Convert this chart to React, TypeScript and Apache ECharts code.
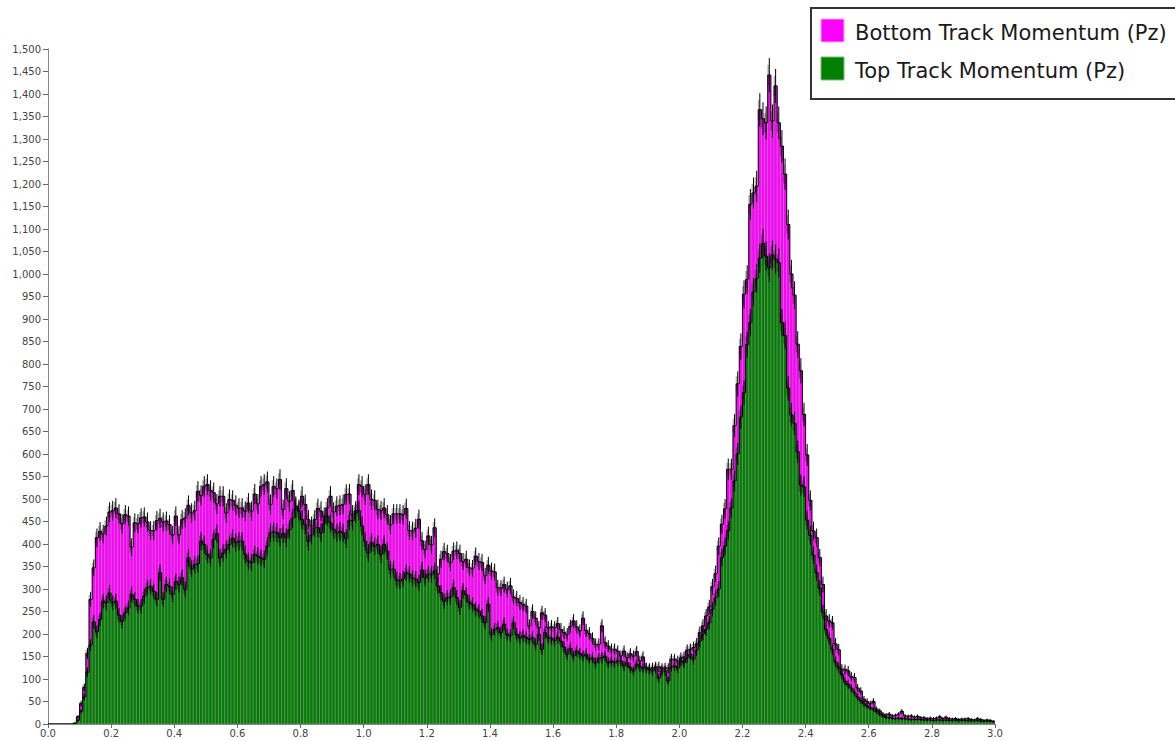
import React, { useEffect, useRef } from "react";
import * as echarts from "echarts";

// Histogram bins: 300 bins of width 0.01 from 0.0 to 3.0
const BIN_WIDTH = 0.01;
const X_MIN = 0;
const X_MAX = 3.0;
const X_TICK_STEP = 0.2;
const Y_MIN = 0;
const Y_MAX = 1500;
const Y_TICK_STEP = 50;

const seriesNames = ["Bottom Track Momentum (Pz)", "Top Track Momentum (Pz)"];

// Bottom Track Momentum (Pz) counts per bin
const bottomTrack = [
  0, 0, 0, 0, 0, 0, 0, 0, 2, 16,
  45, 81, 157, 277, 347, 414, 428, 422, 440, 471,
  474, 480, 467, 445, 465, 462, 393, 447, 445, 458,
  460, 449, 430, 430, 452, 457, 449, 451, 443, 420,
  462, 420, 454, 458, 486, 469, 474, 517, 508, 528,
  532, 519, 514, 489, 506, 506, 469, 499, 497, 486,
  480, 480, 473, 491, 473, 511, 489, 528, 532, 538,
  488, 528, 523, 543, 477, 523, 495, 519, 484, 477,
  506, 488, 454, 440, 454, 479, 473, 460, 480, 506,
  471, 484, 486, 488, 510, 511, 465, 474, 532, 528,
  510, 532, 499, 497, 477, 474, 480, 465, 443, 467,
  467, 467, 465, 479, 430, 429, 435, 455, 407, 388,
  418, 398, 436, 333, 366, 383, 379, 359, 384, 386,
  379, 361, 366, 347, 346, 373, 361, 359, 329, 353,
  340, 338, 303, 302, 310, 299, 307, 282, 279, 270,
  266, 262, 218, 250, 235, 214, 247, 242, 214, 216,
  214, 223, 210, 203, 199, 217, 229, 216, 207, 235,
  208, 201, 190, 177, 177, 218, 181, 173, 166, 166,
  162, 151, 162, 147, 156, 151, 161, 140, 149, 125,
  124, 125, 127, 127, 124, 125, 124, 144, 144, 140,
  147, 149, 164, 166, 170, 178, 203, 218, 240, 260,
  305, 334, 395, 444, 478, 566, 566, 663, 756, 839,
  955, 988, 1155, 1180, 1195, 1365, 1345, 1336, 1442, 1340,
  1418, 1336, 1284, 1222, 1110, 1000, 953, 844, 785, 688,
  598, 497, 429, 414, 370, 310, 240, 229, 225, 178,
  165, 122, 121, 118, 105, 103, 80, 73, 55, 50,
  45, 50, 33, 29, 22, 20, 22, 18, 19, 22,
  28, 18, 17, 18, 15, 17, 14, 14, 12, 13,
  12, 13, 16, 12, 15, 12, 11, 12, 10, 11,
  11, 12, 10, 9, 12, 10, 8, 9, 8, 6,
];

// Top Track Momentum (Pz) counts per bin
const topTrack = [
  0, 0, 0, 0, 0, 0, 0, 0, 1, 8,
  28, 60, 115, 175, 227, 205, 232, 273, 269, 291,
  269, 273, 242, 228, 247, 258, 288, 277, 262, 262,
  284, 303, 306, 295, 277, 336, 277, 310, 306, 288,
  316, 310, 325, 299, 369, 345, 354, 356, 406, 399,
  377, 369, 410, 423, 369, 380, 388, 399, 412, 403,
  406, 406, 377, 362, 358, 377, 373, 369, 366, 395,
  425, 427, 425, 415, 423, 414, 432, 457, 479, 473,
  454, 443, 406, 420, 436, 436, 425, 445, 462, 447,
  432, 425, 428, 425, 412, 452, 452, 469, 474, 440,
  406, 380, 403, 395, 399, 377, 399, 384, 343, 344,
  320, 318, 322, 336, 333, 324, 322, 314, 342, 325,
  333, 333, 340, 307, 292, 273, 281, 282, 303, 281,
  259, 296, 287, 270, 266, 255, 251, 240, 225, 266,
  199, 210, 214, 203, 222, 199, 196, 225, 199, 192,
  196, 192, 188, 192, 177, 199, 166, 203, 192, 190,
  186, 193, 184, 171, 155, 168, 151, 162, 156, 151,
  155, 144, 147, 136, 146, 147, 151, 136, 140, 136,
  140, 140, 129, 136, 125, 118, 133, 127, 124, 125,
  121, 118, 124, 102, 118, 118, 96, 127, 129, 124,
  140, 136, 147, 155, 144, 164, 184, 200, 210, 225,
  255, 280, 300, 370, 395, 430, 480, 540, 600, 682,
  736, 843, 892, 960, 990, 1035, 1068, 1040, 1014, 1042,
  1033, 1025, 892, 863, 746, 687, 668, 605, 531, 527,
  453, 419, 375, 336, 302, 249, 210, 190, 166, 138,
  125, 110, 95, 88, 80, 70, 60, 52, 45, 40,
  36, 33, 28, 22, 18, 15, 14, 13, 12, 13,
  12, 12, 11, 10, 10, 11, 10, 9, 9, 9,
  8, 9, 9, 8, 9, 8, 8, 9, 7, 8,
  8, 7, 7, 7, 8, 6, 6, 7, 6, 5,
];

const COLORS = ["#ff00ff", "#008000"];
const FONT = "DejaVu Sans";

function toBins(values: number[]) {
  return values.map((v, i) => [
    +(i * BIN_WIDTH).toFixed(2),
    +((i + 1) * BIN_WIDTH).toFixed(2),
    v,
    i > 0 ? values[i - 1] : 0,
  ]);
}

function makeRenderItem(fill: string) {
  return (params: any, api: any) => {
    const x0 = api.value(0);
    const x1 = api.value(1);
    const v = api.value(2);
    const prev = api.value(3);
    const tl = api.coord([x0, v]);
    const br = api.coord([x1, 0]);
    const pp = api.coord([x0, prev]);
    const children: any[] = [];
    if (v > 0) {
      children.push({
        type: "rect",
        shape: { x: tl[0], y: tl[1], width: br[0] - tl[0], height: br[1] - tl[1] },
        style: { fill, stroke: "rgba(150,150,150,0.55)", lineWidth: 0.8 },
      });
    }
    children.push({
      type: "polyline",
      shape: { points: [[pp[0], pp[1]], [tl[0], tl[1]], [br[0], tl[1]]] },
      style: { stroke: "#000", lineWidth: 1, fill: null },
    });
    if (v > 0) {
      const err = Math.sqrt(v);
      const cx = (tl[0] + br[0]) / 2;
      const hi = api.coord([x0, v + err])[1];
      const lo = api.coord([x0, Math.max(0, v - err)])[1];
      const hi2 = api.coord([x0, v + err * 0.6])[1];
      const lo2 = api.coord([x0, Math.max(0, v - err * 0.6)])[1];
      children.push({
        type: "rect",
        shape: { x: cx - 2, y: hi2, width: 2, height: lo2 - hi2 },
        style: { fill: "rgba(0,0,0,0.3)" },
      });
      children.push({
        type: "line",
        shape: { x1: cx, y1: hi, x2: cx, y2: lo },
        style: { stroke: "#000", lineWidth: 1 },
      });
    }
    return { type: "group", children };
  };
}

export default function App() {
  const ref = useRef<HTMLDivElement>(null);
  useEffect(() => {
    document.body.style.margin = "0";
    if (!ref.current) return;
    const chart = echarts.init(ref.current, null, { renderer: "svg" });
    const axisLabelStyle = { color: "#444", fontSize: 10, fontFamily: FONT };
    chart.setOption({
      animation: false,
      backgroundColor: "#fff",
      grid: { left: 48, right: 180, top: 49, bottom: 17, containLabel: false },
      xAxis: {
        type: "value",
        min: X_MIN,
        max: X_MAX,
        interval: X_TICK_STEP,
        axisLine: { show: true, lineStyle: { color: "#888", width: 1 } },
        axisTick: { show: true, length: 4, lineStyle: { color: "#666" } },
        axisLabel: { ...axisLabelStyle, margin: 4, formatter: (v: number) => v.toFixed(1) },
        splitLine: { show: false },
      },
      yAxis: {
        type: "value",
        min: Y_MIN,
        max: Y_MAX,
        interval: Y_TICK_STEP,
        axisLine: { show: true, lineStyle: { color: "#888", width: 1 } },
        axisTick: { show: true, length: 5, lineStyle: { color: "#666" } },
        axisLabel: {
          ...axisLabelStyle,
          margin: 7,
          formatter: (v: number) => v.toLocaleString("en-US"),
        },
        splitLine: { show: false },
      },
      series: [
        {
          name: seriesNames[0],
          type: "custom",
          renderItem: makeRenderItem(COLORS[0]),
          encode: { x: [0, 1], y: 2 },
          data: toBins(bottomTrack),
          clip: true,
          z: 2,
        },
        {
          name: seriesNames[1],
          type: "custom",
          renderItem: makeRenderItem(COLORS[1]),
          encode: { x: [0, 1], y: 2 },
          data: toBins(topTrack),
          clip: true,
          z: 3,
        },
      ],
      graphic: [
        {
          type: "rect",
          shape: { x: 811, y: 8, width: 400, height: 91 },
          style: { fill: "#fff", stroke: "#333", lineWidth: 2 },
          z: 100,
        },
        {
          type: "rect",
          shape: { x: 821, y: 19, width: 23, height: 23 },
          style: { fill: COLORS[0], stroke: "#f9a8f9", lineWidth: 1 },
          z: 101,
        },
        {
          type: "text",
          x: 855,
          y: 33,
          style: {
            text: seriesNames[0],
            fontSize: 21,
            fontFamily: FONT,
            fill: "#1a1a1a",
            verticalAlign: "middle",
          },
          z: 101,
        },
        {
          type: "rect",
          shape: { x: 821, y: 57, width: 23, height: 23 },
          style: { fill: COLORS[1], stroke: "#7fb87f", lineWidth: 1 },
          z: 101,
        },
        {
          type: "text",
          x: 855,
          y: 71,
          style: {
            text: seriesNames[1],
            fontSize: 21,
            fontFamily: FONT,
            fill: "#1a1a1a",
            verticalAlign: "middle",
          },
          z: 101,
        },
      ],
    });
    return () => chart.dispose();
  }, []);
  return <div ref={ref} style={{ width: 1175, height: 741 }} />;
}
